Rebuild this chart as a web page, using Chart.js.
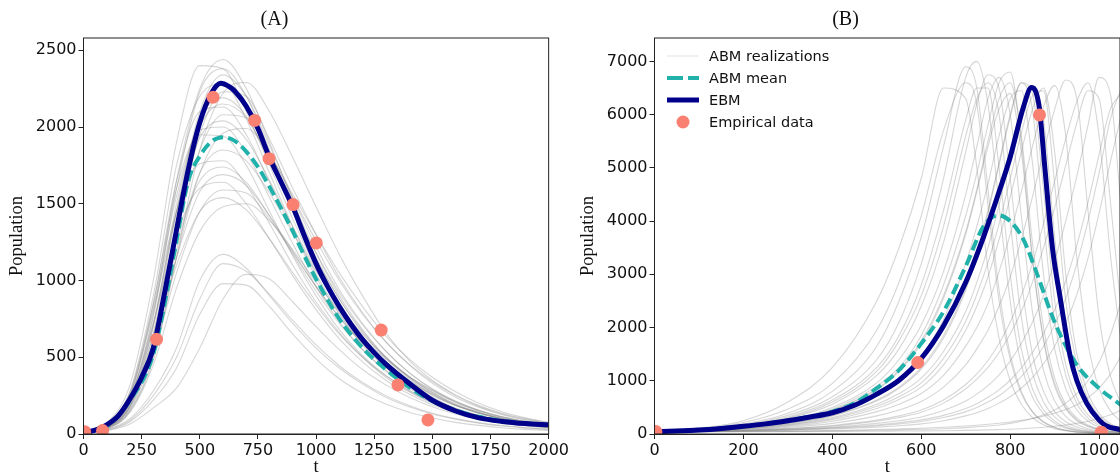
<!DOCTYPE html>
<html>
<head>
<meta charset="utf-8">
<script src="https://cdn.jsdelivr.net/npm/chart.js@4.4.1/dist/chart.umd.min.js"></script>
<style>
  html, body { margin: 0; padding: 0; background: #fff; overflow: hidden; }
  body { width: 1120px; height: 476px; position: relative; }
  .panel { position: absolute; top: 0; width: 571px; height: 476px; }
  #boxA { left: 0; }
  #boxB { left: 571px; }
</style>
</head>
<body>
<div class="panel" id="boxA"><canvas id="chartA" width="571" height="476"></canvas></div>
<div class="panel" id="boxB"><canvas id="chartB" width="571" height="476"></canvas></div>
<script>
// ---------- panel (A) ----------
const tA = [0,100,200,300,400,500,600,700,800,900,1000,1100,1200,1300,1400,1500,1600,1700,1800,1900,2000];
const abmA = [
  [10,70,320,1000,1900,2400,2380,2100,1750,1400,1080,820,610,450,330,240,170,120,85,60,45],
  [10,50,240,780,1650,2250,2440,2250,1900,1520,1180,900,680,500,370,270,190,140,100,75,55],
  [10,45,200,650,1450,2100,2340,2200,1880,1540,1220,940,720,540,400,290,210,150,110,80,60],
  [10,60,280,900,1750,2200,2280,2050,1700,1350,1040,790,590,440,320,230,165,120,85,65,50],
  [10,40,170,560,1300,1950,2230,2200,1920,1600,1300,1020,790,600,450,330,240,175,125,90,65],
  [10,45,210,700,1500,2050,2190,2070,1780,1450,1140,880,670,500,370,270,195,140,100,75,55],
  [10,55,260,850,1650,2100,2130,1950,1640,1320,1020,780,580,430,315,230,165,118,85,62,48],
  [10,40,180,600,1300,1850,2080,2060,1830,1540,1260,1000,780,600,455,340,250,180,130,95,70],
  [10,50,220,720,1450,1930,2040,1920,1650,1350,1070,830,630,470,350,255,185,135,98,72,55],
  [10,35,150,500,1150,1700,1960,1990,1820,1560,1300,1050,830,640,490,370,275,200,145,105,75],
  [10,55,250,800,1450,1760,1780,1620,1370,1100,860,660,500,370,275,200,145,105,78,58,45],
  [10,45,200,650,1250,1650,1740,1640,1420,1170,930,720,550,415,310,225,165,120,88,65,50],
  [10,40,180,580,1150,1580,1690,1620,1420,1190,960,760,590,450,340,250,185,135,98,72,55],
  [10,50,230,720,1300,1600,1640,1500,1270,1030,810,620,470,350,260,190,140,100,74,55,42],
  [10,38,160,520,1050,1450,1590,1570,1400,1180,960,760,590,455,345,260,190,140,102,75,56],
  [10,42,190,600,1100,1450,1540,1460,1270,1050,840,650,500,380,285,210,155,113,82,60,45],
  [10,35,140,450,950,1320,1480,1500,1390,1200,990,800,630,490,375,285,210,155,112,82,60],
  [10,30,100,280,560,1000,1170,1080,900,720,560,430,325,240,178,130,96,70,52,40,30],
  [10,28,90,250,500,880,1110,1060,910,740,580,445,335,250,185,135,100,74,55,41,31],
  [10,22,65,170,300,560,880,1040,1010,860,700,550,420,320,240,178,130,96,70,52,38],
  [10,25,80,220,430,780,980,970,830,650,490,360,265,195,142,104,76,56,41,30,23],
  [10,60,270,850,1600,1950,1940,1750,1450,1160,900,680,510,380,280,205,150,110,80,60,45],
  [10,35,150,480,1150,1850,2220,2290,2100,1800,1480,1170,900,660,480,350,255,185,135,100,75],
  [10,50,230,760,1600,2230,2380,2200,1850,1480,1150,880,660,490,360,260,185,135,98,72,55],
  [10,55,250,820,1550,1980,2000,1830,1540,1240,960,730,550,410,300,220,160,115,84,62,47],
  [10,42,180,600,1200,1700,1850,1780,1570,1310,1060,840,650,500,375,280,205,150,108,80,60],
  [10,48,215,700,1450,2000,2150,2060,1780,1470,1180,920,710,540,400,295,215,155,112,82,62]
];
const tMeanA = [0,100,200,300,350,400,450,500,550,600,650,700,750,800,850,900,950,1000,1100,1200,1300,1400,1500,1600,1700,1800,1900,2000];
const meanA = [10,50,220,520,860,1260,1650,1810,1905,1934,1910,1840,1740,1610,1470,1320,1160,1010,750,560,420,305,215,155,112,85,70,58];
const tEbmA = [0,50,100,150,200,250,300,350,400,450,500,550,590,625,650,700,750,800,850,900,950,1000,1050,1100,1150,1200,1250,1300,1400,1500,1600,1700,1800,1900,2000];
const ebmA = [10,25,60,120,230,370,560,930,1330,1720,2030,2220,2285,2265,2235,2135,1990,1800,1640,1480,1290,1110,960,830,715,615,530,455,330,220,150,105,82,68,60];
const tDataA = [5,82,314,557,736,798,901,1001,1280,1352,1481];
const popDataA = [15,22,617,2194,2043,1794,1495,1245,677,320,92];
const xTicksA = [0,250,500,750,1000,1250,1500,1750,2000];
const yTicksA = [0,500,1000,1500,2000,2500];

// ---------- panel (B) ----------
const tB = [0,100,200,300,400,500,550,600,650,700,725,750,775,800,825,850,875,900,925,950,975,1000,1025,1050];
const abmB = [
  [40,110,250,600,1250,2500,3500,4800,6500,6300,5000,3100,1800,1000,560,310,175,100,60,35,22,14,9,6],
  [40,85,185,390,800,1650,2500,3700,5400,6900,6500,4600,2700,1500,800,420,230,125,70,40,25,15,10,6],
  [40,95,215,470,950,1950,2850,4100,5700,6600,6200,4300,2500,1400,760,410,220,120,68,40,25,15,10,6],
  [40,80,170,350,700,1400,2100,3200,4800,6700,7000,6200,4300,2500,1300,700,380,200,110,65,40,25,15,10],
  [40,78,160,320,640,1250,1850,2800,4200,5900,6500,6500,5000,3000,1600,850,450,240,130,75,45,28,18,12],
  [40,76,155,300,600,1180,1750,2600,3900,5600,6300,6600,6000,4000,2200,1150,600,320,170,95,55,33,20,13],
  [40,75,150,290,560,1100,1600,2400,3600,5300,6200,6750,6500,4800,2900,1500,800,420,230,130,75,45,28,18],
  [40,70,140,260,500,960,1400,2050,3050,4500,5400,6300,6700,6000,4100,2300,1200,620,330,180,100,60,35,22],
  [40,68,130,235,440,830,1180,1700,2550,3750,4550,5400,6100,6400,5300,3300,1800,950,500,270,150,85,50,30],
  [40,72,135,250,470,900,1250,1850,2800,4100,4900,5800,6600,6800,5500,3300,1750,900,470,250,140,80,48,30],
  [40,70,130,240,450,850,1200,1750,2600,3800,4600,5500,6300,6600,5600,3600,2000,1050,550,300,170,95,55,33],
  [40,65,120,215,390,730,1000,1450,2150,3200,3900,4700,5600,6300,6450,5100,3000,1600,850,450,240,130,75,42],
  [40,62,112,195,340,620,860,1220,1800,2700,3350,4150,5050,5950,6600,6100,4000,2100,1100,570,300,160,90,50],
  [40,65,115,200,350,640,880,1250,1850,2750,3400,4200,5100,6000,6600,6400,4600,2500,1300,680,360,190,105,60],
  [40,60,105,180,310,560,760,1050,1550,2300,2850,3500,4300,5200,6000,6550,5900,3700,1900,980,500,260,140,75],
  [40,60,100,170,290,520,700,960,1420,2120,2620,3220,3950,4800,5650,6350,6450,4700,2500,1300,660,340,180,95],
  [40,58,95,160,270,480,650,880,1300,1950,2400,2950,3650,4450,5300,6100,6500,5300,3000,1500,760,390,200,110],
  [40,55,90,145,240,420,560,760,1100,1650,2000,2450,3050,3750,4550,5400,6150,6550,5600,3300,1700,850,440,230],
  [40,52,80,125,200,340,450,610,880,1300,1600,1950,2400,2950,3650,4450,5300,6100,6650,6300,4200,2200,1100,560],
  [40,50,72,105,160,260,340,450,640,930,1130,1380,1700,2100,2600,3200,3950,4750,5550,6250,6600,5600,3400,1700],
  [40,50,70,100,150,240,310,410,580,850,1030,1250,1530,1880,2300,2850,3500,4250,5050,5850,6450,6300,4400,2300],
  [40,48,65,90,130,200,250,320,440,620,750,910,1110,1370,1700,2100,2600,3250,4000,4850,5800,6700,6400,4200],
  [40,47,60,82,115,170,210,265,350,480,570,690,830,1010,1240,1530,1890,2330,2880,3550,4350,5250,6100,6400],
  [40,46,58,78,108,155,190,235,310,420,500,600,720,880,1080,1330,1650,2050,2550,3200,4000,4900,5900,6500],
  [40,45,55,70,95,130,155,190,250,340,400,480,580,700,860,1060,1320,1650,2080,2620,3300,4150,5100,6000],
  [40,43,48,55,66,84,95,108,126,150,165,182,202,226,256,292,336,390,460,550,680,860,1120,1480],
  [40,42,45,50,58,70,78,88,100,120,135,150,170,200,240,290,360,450,580,760,1000,1350,1850,2500],
  [40,41,43,45,48,52,55,58,62,68,72,77,83,90,100,112,127,146,170,200,240,290,360,450]
];
const tMeanB = [0,100,200,300,400,450,500,550,600,650,700,740,773,800,830,860,900,950,1000,1050];
const meanB = [40,80,145,255,420,580,860,1200,1700,2300,3150,3900,4110,4000,3650,3017,2100,1300,860,540];
const tEbmB = [0,50,100,150,200,250,300,350,400,450,500,550,600,650,700,740,775,800,830,848,858,866,878,895,912,935,950,972,1000,1017,1050];
const ebmB = [40,55,75,105,144,190,250,320,400,540,750,1010,1420,2030,2850,3700,4550,5200,6150,6510,6420,6100,5000,3500,2580,1455,1000,580,260,150,80];
const tDataB = [3,592,866,1005];
const popDataB = [45,1343,5994,35];
const xTicksB = [0,200,400,600,800,1000];
const yTicksB = [0,1000,2000,3000,4000,5000,6000,7000];

const legendLabels = ['ABM realizations', 'ABM mean', 'EBM', 'Empirical data'];

const NAVY = '#00008b', TEAL = '#20b2aa', SALMON = '#fa8072', GREY = 'rgba(128,128,128,0.32)';

function pts(ts, vs) { return ts.map((t, i) => ({ x: t, y: vs[i] })); }

function buildSets(tGrid, abm, tMean, mean, tEbm, ebm, tData, popData) {
  const sets = [];
  sets.push({ label: 'Empirical data', data: pts(tData, popData), showLine: false,
    pointRadius: 6.5, pointBackgroundColor: SALMON, pointBorderWidth: 0, order: 0, clip: 0 });
  sets.push({ label: 'EBM', data: pts(tEbm, ebm), borderColor: NAVY, borderWidth: 5,
    pointRadius: 0, cubicInterpolationMode: 'monotone', order: 1, clip: 0 });
  sets.push({ label: 'ABM mean', data: pts(tMean, mean), borderColor: TEAL, borderWidth: 4,
    borderDash: [11, 5], pointRadius: 0, cubicInterpolationMode: 'monotone', order: 2, clip: 0 });
  abm.forEach(r => sets.push({ label: 'ABM realizations', data: pts(tGrid, r), borderColor: GREY,
    borderWidth: 1.1, pointRadius: 0, cubicInterpolationMode: 'monotone', order: 3, clip: 0 }));
  return sets;
}

const frame = {
  id: 'frame',
  afterDraw(chart) {
    const a = chart.chartArea, ctx = chart.ctx;
    ctx.save();
    ctx.strokeStyle = '#222';
    ctx.lineWidth = 1;
    ctx.strokeRect(a.left, a.top, a.right - a.left, a.bottom - a.top);
    ctx.restore();
  }
};

const legendB = {
  id: 'legendB',
  afterDraw(chart) {
    const ctx = chart.ctx;
    ctx.save();
    ctx.font = '14.5px "DejaVu Sans"';
    ctx.textBaseline = 'middle';
    legendLabels.forEach((lab, i) => {
      const y = 56 + i * 22;
      ctx.setLineDash([]);
      if (i === 0) { ctx.strokeStyle = 'rgba(128,128,128,0.15)'; ctx.lineWidth = 1.5; }
      if (i === 1) { ctx.strokeStyle = TEAL; ctx.lineWidth = 4; ctx.setLineDash([16, 5]); }
      if (i === 2) { ctx.strokeStyle = NAVY; ctx.lineWidth = 5; }
      if (i < 3) {
        ctx.beginPath(); ctx.moveTo(96, y); ctx.lineTo(128, y); ctx.stroke();
      } else {
        ctx.fillStyle = SALMON;
        ctx.beginPath(); ctx.arc(112, y, 6.5, 0, Math.PI * 2); ctx.fill();
      }
      ctx.setLineDash([]);
      ctx.fillStyle = '#111';
      ctx.fillText(lab, 138, y + 1);
    });
    ctx.restore();
  }
};

function axis(min, max, tickValues, titleText, isY) {
  return {
    type: 'linear', min: min, max: max,
    afterBuildTicks: s => { s.ticks = tickValues.map(v => ({ value: v })); },
    ticks: { autoSkip: false, maxRotation: 0,
      color: '#111', padding: 2, font: { family: 'DejaVu Sans', size: 16 },
      callback: v => String(v) },
    grid: { drawOnChartArea: false, tickLength: 5, color: '#222', tickColor: '#222' },
    border: { display: true, color: '#222', width: 1 },
    title: { display: true, text: titleText, color: '#111',
      font: { family: 'Liberation Serif', size: 18.5, lineHeight: isY ? 1.2 : 1 },
      padding: isY ? { top: 6, bottom: 0 } : { top: 0, bottom: 0 } },
    afterFit: isY ? s => { s.width = 83.5; } : s => { s.height = 42; }
  };
}

function makePanel(id, title, sets, xMax, xTicks, yMax, yTicks, extra) {
  return new Chart(document.getElementById(id), {
    type: 'line',
    data: { datasets: sets },
    options: {
      responsive: false, animation: false,
      layout: { padding: { left: 0, right: 22, top: 0, bottom: 0 } },
      plugins: {
        legend: { display: false }, tooltip: { enabled: false },
        title: { display: true, text: title, color: '#111',
          font: { family: 'Liberation Serif', size: 20, weight: 'normal' }, padding: { top: 8, bottom: 6 } }
      },
      scales: {
        x: axis(0, xMax, xTicks, 't', false),
        y: axis(0, yMax, yTicks, 'Population', true)
      }
    },
    plugins: extra
  });
}

makePanel('chartA', '(A)', buildSets(tA, abmA, tMeanA, meanA, tEbmA, ebmA, tDataA, popDataA),
  2000, xTicksA, 2580, yTicksA, [frame]);
makePanel('chartB', '(B)', buildSets(tB, abmB, tMeanB, meanB, tEbmB, ebmB, tDataB, popDataB),
  1047, xTicksB, 7440, yTicksB, [frame, legendB]);
</script>
</body>
</html>
